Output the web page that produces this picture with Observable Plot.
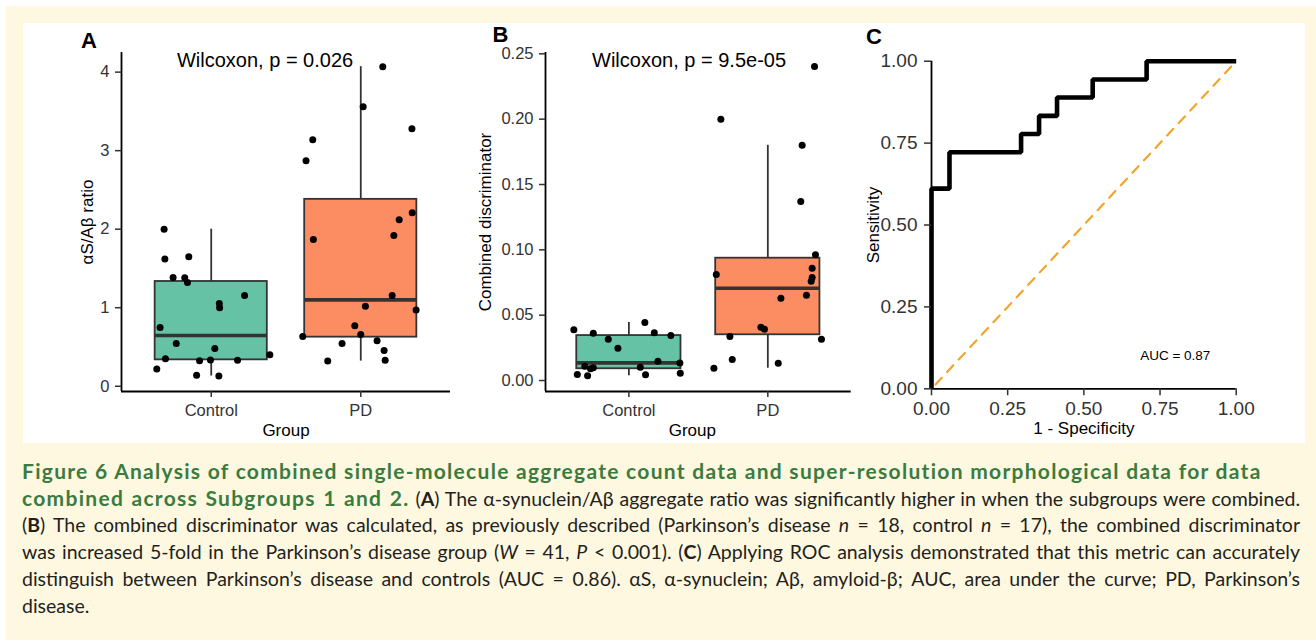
<!DOCTYPE html>
<html>
<head>
<meta charset="utf-8">
<script src="https://cdn.jsdelivr.net/npm/d3@7"></script>
<script src="https://cdn.jsdelivr.net/npm/@observablehq/plot@0.6"></script>
<style>
  html, body { margin: 0; padding: 0; background: #ffffff; }
  body { width: 1316px; height: 640px; overflow: hidden; position: relative; font-family: "Liberation Sans", Arial, sans-serif; }
  #cream { position: absolute; left: 6px; top: 6px; width: 1310px; height: 634px; background: #fef8e0; }
  #panel { position: absolute; left: 23px; top: 23px; width: 1282px; height: 420px; background: #ffffff; }
  .plot { position: absolute; top: 0; }
  #caption { position: absolute; left: 22px; top: 457px; width: 1278px; font-family: "Lato", "Open Sans", sans-serif; font-size: 19.5px; line-height: 27px; color: #231f20; }
  #caption .ln { white-space: nowrap; height: 27px; }
  #caption .in { display: inline-block; }
  #caption .g { color: #3b7b3f; font-weight: bold; font-size: 21px; }
</style>
</head>
<body>
<div id="cream"></div>
<div id="panel"></div>
<div id="plotA" class="plot" style="left:0px"></div>
<div id="plotB" class="plot" style="left:470px"></div>
<div id="plotC" class="plot" style="left:860px"></div>
<div id="caption">
  <div class="ln"><span class="in" id="title1"><span class="g">Figure 6 Analysis of combined single-molecule aggregate count data and super-resolution morphological data for data</span></span></div>
  <div class="ln"><span class="in j"><span class="g">combined across Subgroups 1 and 2.</span> (<b>A</b>) The α-synuclein/Aβ aggregate ratio was significantly higher in when the subgroups were combined.</span></div>
  <div class="ln"><span class="in j">(<b>B</b>) The combined discriminator was calculated, as previously described (Parkinson’s disease <i>n</i> = 18, control <i>n</i> = 17), the combined discriminator</span></div>
  <div class="ln"><span class="in j">was increased 5-fold in the Parkinson’s disease group (<i>W</i> = 41, <i>P</i> &lt; 0.001). (<b>C</b>) Applying ROC analysis demonstrated that this metric can accurately</span></div>
  <div class="ln"><span class="in j">distinguish between Parkinson’s disease and controls (AUC = 0.86). αS, α-synuclein; Aβ, amyloid-β; AUC, area under the curve; PD, Parkinson’s</span></div>
  <div class="ln"><span class="in">disease.</span></div>
</div>
<script>
// ---------------- DATA ----------------
const groups = ["Control", "PD"];
const groupColors = ["#66c2a5", "#fc8d62"];

// Panel A: αS/Aβ ratio (values) and horizontal jitter (category units)
const ratioControl = [2.00, 1.62, 1.65, 1.385, 1.38, 1.32, 1.155, 1.053, 1.00, 0.748, 0.544, 0.48, 0.35, 0.323, 0.335, 0.33, 0.40, 0.22, 0.14, 0.13];
const jitterControlA = [-0.315, -0.31, -0.15, -0.255, -0.177, -0.159, 0.223, 0.054, 0.056, -0.342, -0.234, 0.024, -0.306, -0.078, -0.005, 0.176, 0.392, -0.364, -0.098, 0.051];
const ratioPD = [4.07, 3.56, 3.28, 3.14, 2.87, 1.87, 2.21, 2.12, 1.92, 1.155, 1.02, 0.97, 0.77, 0.66, 0.633, 0.544, 0.578, 0.455, 0.33, 0.32];
const jitterPDA = [0.147, 0.016, 0.342, -0.321, -0.366, -0.317, 0.344, 0.257, 0.221, 0.21, 0.031, 0.37, -0.04, 0.0, -0.388, -0.125, 0.109, 0.156, 0.163, -0.221];
// box statistics: [lower whisker, Q1, median, Q3, upper whisker]
const boxStatsAControl = [0.13, 0.336, 0.646, 1.334, 2.00];
const boxStatsAPD = [0.32, 0.625, 1.10, 2.38, 4.07];
const yTicksA = [0, 1, 2, 3, 4];

// Panel B: combined discriminator
const discControl = [0.0388, 0.0362, 0.0316, 0.0247, 0.0444, 0.0365, 0.0344, 0.0148, 0.0135, 0.0102, 0.011, 0.0097, 0.009, 0.0046, 0.0036, 0.0044, 0.0056];
const jitterControlB = [-0.396, -0.256, -0.148, -0.079, 0.115, 0.183, 0.302, 0.209, 0.367, 0.082, -0.317, -0.256, -0.276, -0.371, -0.297, 0.12, 0.37];
const discPD = [0.2402, 0.200, 0.180, 0.137, 0.0962, 0.0859, 0.0788, 0.076, 0.0811, 0.063, 0.0653, 0.0408, 0.0393, 0.0337, 0.0316, 0.0161, 0.0132, 0.0094];
const jitterPDB = [0.336, -0.338, 0.247, 0.237, 0.343, 0.319, 0.319, 0.312, -0.371, 0.094, 0.278, -0.05, -0.024, -0.273, 0.386, -0.256, 0.075, -0.388];
const boxStatsBControl = [0.0036, 0.009, 0.0135, 0.0344, 0.0444];
const boxStatsBPD = [0.0094, 0.035, 0.0706, 0.0936, 0.180];
const yTicksB = [0, 0.05, 0.10, 0.15, 0.20, 0.25];

// Panel C: ROC curve
const fpr = [0, 0, 0.059, 0.294, 0.353, 0.412, 0.529, 0.706, 1];
const tpr = [0, 0.611, 0.722, 0.778, 0.833, 0.889, 0.944, 1, 1];
const chance = [0, 1];
const rocTicks = [0, 0.25, 0.5, 0.75, 1];

const pLabelA = "Wilcoxon, p = 0.026";
const pLabelB = "Wilcoxon, p = 9.5e-05";
const aucLabel = "AUC = 0.87";

// ---------------- HELPERS ----------------
const FONT = "'Liberation Sans', Arial, Helvetica, sans-serif";
const INK = "#333333";

function makePoints(values, jitter, gi) {
  return values.map((v, i) => ({g: gi + 1, v, j: jitter[i]}));
}
function makeBoxes(statsList) {
  return statsList.map((s, i) => ({g: i + 1, lo: s[0], q1: s[1], med: s[2], q3: s[3], hi: s[4], fill: groupColors[i]}));
}
const centered = {textAnchor: "middle", lineAnchor: "middle"};

function boxPanel({values, jitters, stats, yDomain, yTicks, yFormat, width, marginLeft, marginRight, yTitle, yTitleDx, pLabel, pX, pY, panel, panelDx, panelDy, groupDx}) {
  const pts = values.flatMap((v, gi) => makePoints(v, jitters[gi], gi));
  const boxes = makeBoxes(stats);
  const xDomain = [0.4, 2.6];
  return Plot.plot({
    width, height: 445,
    marginLeft, marginRight, marginTop: 52, marginBottom: 54,
    style: {background: "transparent", fontFamily: FONT, overflow: "visible"},
    x: {type: "linear", domain: xDomain},
    y: {type: "linear", domain: yDomain},
    marks: [
      Plot.ruleX(boxes, {x: "g", y1: "lo", y2: "q1", stroke: INK, strokeWidth: 1.8}),
      Plot.ruleX(boxes, {x: "g", y1: "q3", y2: "hi", stroke: INK, strokeWidth: 1.8}),
      Plot.rect(boxes, {x1: d => d.g - 0.375, x2: d => d.g + 0.375, y1: "q1", y2: "q3", fill: "fill", stroke: INK, strokeWidth: 1.8}),
      Plot.ruleY(boxes, {y: "med", x1: d => d.g - 0.375, x2: d => d.g + 0.375, stroke: INK, strokeWidth: 3.6}),
      Plot.dot(pts, {x: d => d.g + d.j, y: "v", r: 3.5, fill: "black", stroke: "none"}),
      Plot.ruleX([xDomain[0]], {stroke: "black", strokeWidth: 1.8}),
      Plot.ruleY([yDomain[0]], {stroke: "black", strokeWidth: 1.8}),
      Plot.axisY({ticks: yTicks, tickFormat: yFormat, tickSize: 6, tickPadding: 6, fontSize: 16.5, label: null, stroke: INK, strokeWidth: 1.5, fill: INK}),
      Plot.axisX({ticks: [1, 2], tickFormat: d => groups[d - 1], tickSize: 6, tickPadding: 7, fontSize: 16.5, label: null, stroke: INK, strokeWidth: 1.5, fill: INK}),
      Plot.text([yTitle], {text: d => d, frameAnchor: "left", rotate: -90, dx: yTitleDx, fontSize: 17, fill: "black", ...centered}),
      Plot.text(["Group"], {text: d => d, frameAnchor: "bottom", dy: 39, dx: groupDx, fontSize: 17, fill: "black", ...centered}),
      Plot.text([pLabel], {text: d => d, x: pX, y: pY, fontSize: 20, fill: "black", ...centered}),
      Plot.text([panel], {text: d => d, frameAnchor: "top-left", dx: panelDx, dy: panelDy, fontSize: 22, fontWeight: "bold", fill: "black", ...centered})
    ]
  });
}

// ---------------- PANEL A ----------------
document.getElementById("plotA").appendChild(boxPanel({
  values: [ratioControl, ratioPD],
  jitters: [jitterControlA, jitterPDA],
  stats: [boxStatsAControl, boxStatsAPD],
  yDomain: [-0.067, 4.25], yTicks: yTicksA, yFormat: d3.format("d"),
  width: 470, marginLeft: 121, marginRight: 20,
  yTitle: "αS/Aβ ratio", yTitleDx: -34,
  pLabel: pLabelA, pX: 1.36, pY: 4.15,
  panel: "A", panelDx: -32.5, panelDy: -12, groupDx: 0
}));

// ---------------- PANEL B ----------------
document.getElementById("plotB").appendChild(boxPanel({
  values: [discControl, discPD],
  jitters: [jitterControlB, jitterPDB],
  stats: [boxStatsBControl, boxStatsBPD],
  yDomain: [-0.0084, 0.251], yTicks: yTicksB, yFormat: d3.format(".2f"),
  width: 400, marginLeft: 75, marginRight: 19.3,
  yTitle: "Combined discriminator", yTitleDx: -60,
  pLabel: pLabelB, pX: 1.433, pY: 0.2448,
  panel: "B", panelDx: -45, panelDy: -18, groupDx: -6
}));

// ---------------- PANEL C ----------------
const roc = fpr.map((f, i) => ({fpr: f, tpr: tpr[i]}));
document.getElementById("plotC").appendChild(Plot.plot({
  width: 456, height: 445,
  marginLeft: 71, marginRight: 80.3, marginTop: 60.7, marginBottom: 56.7,
  style: {background: "transparent", fontFamily: FONT, overflow: "visible"},
  x: {type: "linear", domain: [0, 1]},
  y: {type: "linear", domain: [0, 1]},
  marks: [
    Plot.ruleX([0], {stroke: "black", strokeWidth: 1.8}),
    Plot.ruleY([0], {stroke: "black", strokeWidth: 1.8}),
    Plot.line(chance, {x: d => d, y: d => d, stroke: "#f2a52c", strokeWidth: 2.2, strokeDasharray: "9,8", strokeDashoffset: -6}),
    Plot.line(roc, {x: "fpr", y: "tpr", curve: "step-after", stroke: "black", strokeWidth: 4.6, strokeLinejoin: "miter", strokeLinecap: "butt"}),
    Plot.axisY({ticks: rocTicks, tickFormat: d3.format(".2f"), tickSize: 7, tickPadding: 7, fontSize: 19, label: null, stroke: INK, strokeWidth: 1.5, fill: INK}),
    Plot.axisX({ticks: rocTicks, tickFormat: d3.format(".2f"), tickSize: 7, tickPadding: 6, fontSize: 19, label: null, stroke: INK, strokeWidth: 1.5, fill: INK}),
    Plot.text(["Sensitivity"], {text: d => d, frameAnchor: "left", rotate: -90, dx: -58, fontSize: 17, fill: "black", ...centered}),
    Plot.text(["1 - Specificity"], {text: d => d, frameAnchor: "bottom", dy: 40, fontSize: 17, fill: "black", ...centered}),
    Plot.text([aucLabel], {text: d => d, x: 0.8, y: 0.1, fontSize: 13.5, fill: "black", ...centered}),
    Plot.text(["C"], {text: d => d, frameAnchor: "top-left", dx: -57.5, dy: -24, fontSize: 22, fontWeight: "bold", fill: "black", ...centered})
  ]
}));

// ---------------- CAPTION FITTING ----------------
function fitCaption() {
  const t = document.querySelector("#title1");
  const gs = document.querySelectorAll("#caption .g");
  gs.forEach(g => g.style.letterSpacing = "0px");
  const w1 = t.getBoundingClientRect().width;
  const nChars = t.textContent.length;
  const ls = Math.max(0, Math.min(1.6, (1240 - w1) / nChars));
  gs.forEach(g => g.style.letterSpacing = ls + "px");
  document.querySelectorAll("#caption .j").forEach(s => {
    s.style.wordSpacing = "0px";
    const w = s.getBoundingClientRect().width;
    const n = (s.textContent.match(/ /g) || []).length;
    if (n > 0) s.style.wordSpacing = ((1278 - w) / n) + "px";
  });
}
fitCaption();
if (document.fonts && document.fonts.ready) document.fonts.ready.then(fitCaption);
</script>
</body>
</html>
